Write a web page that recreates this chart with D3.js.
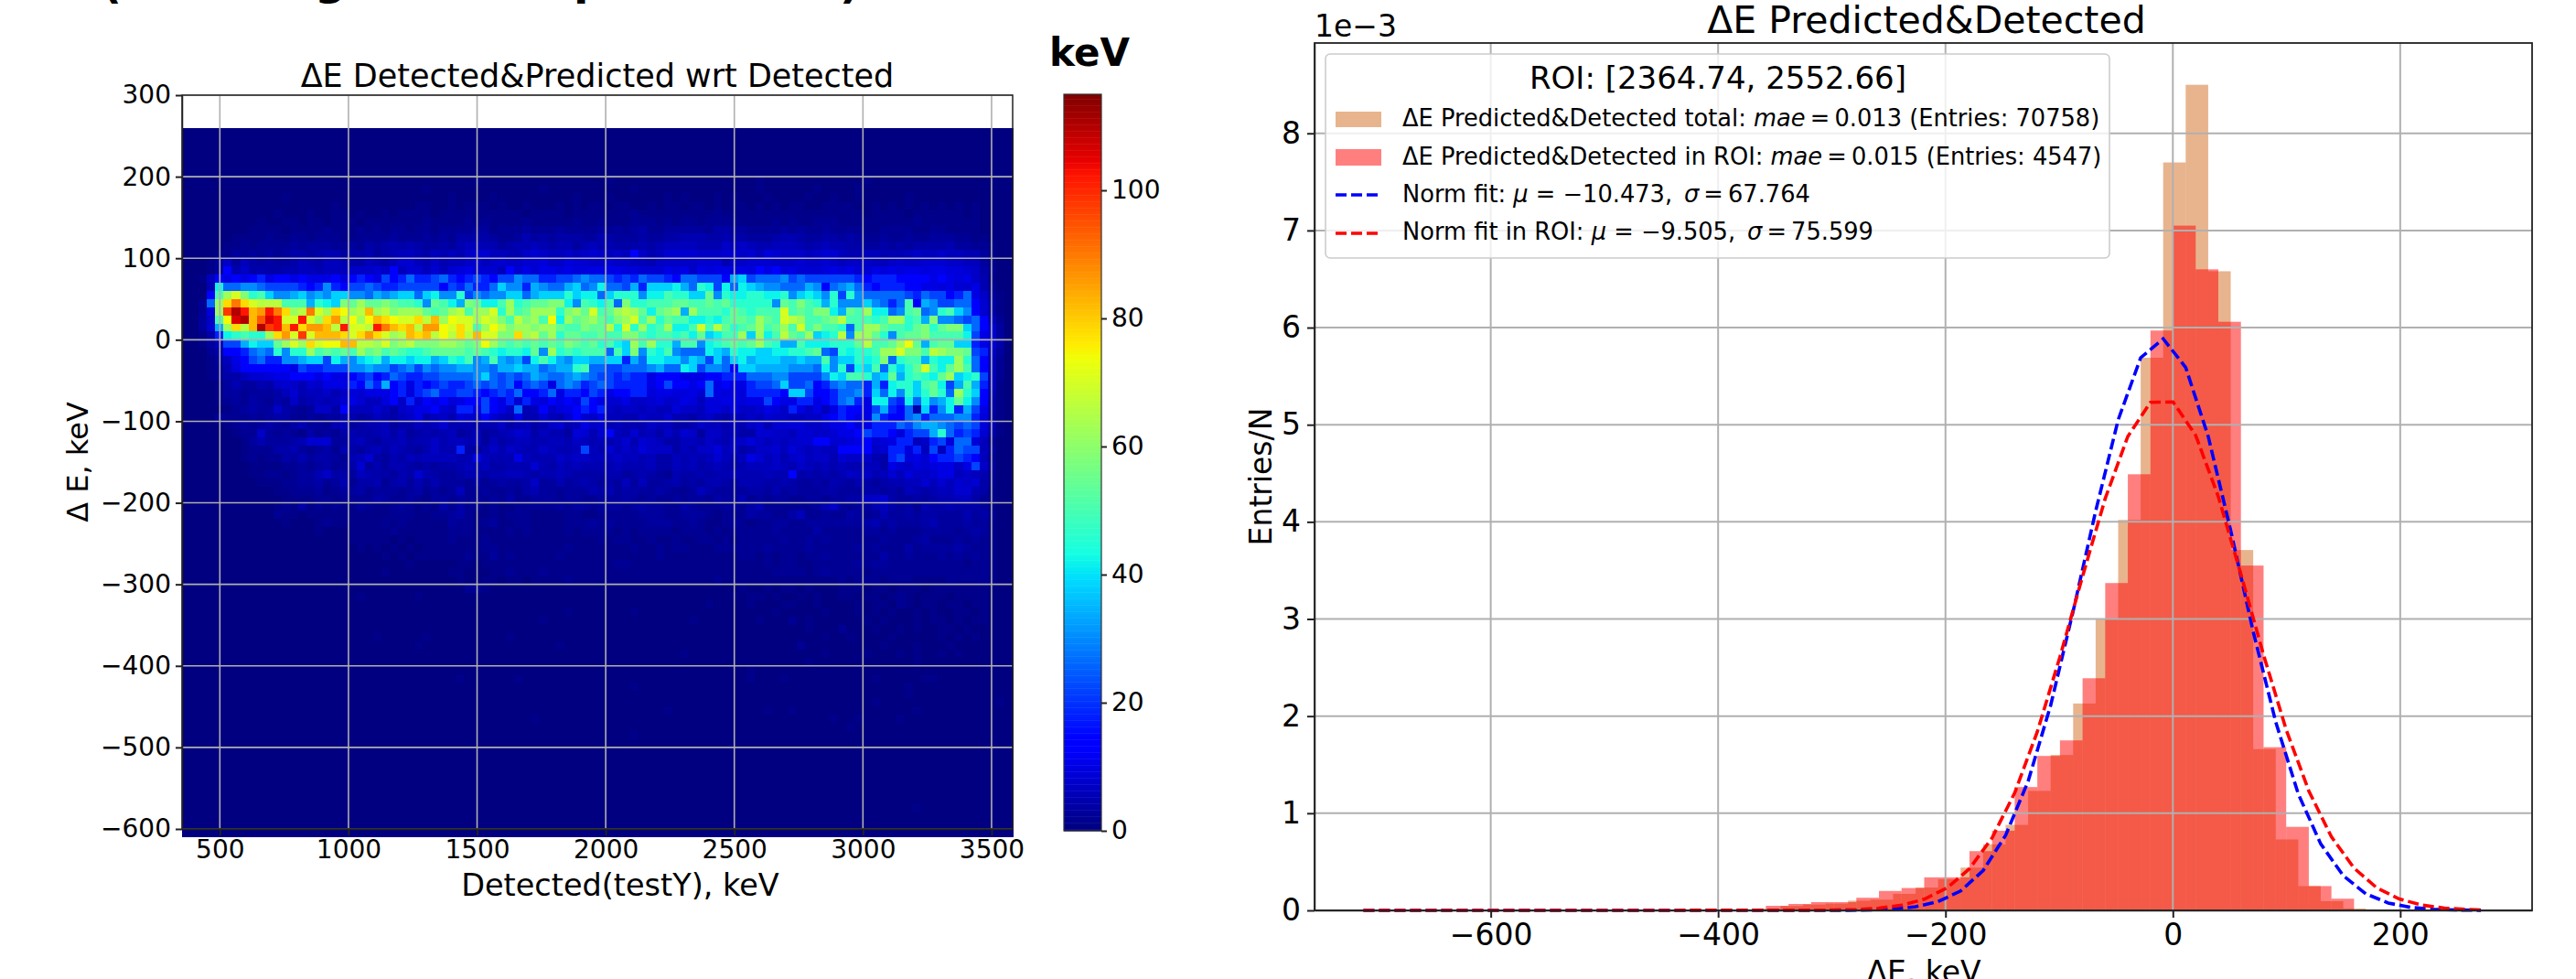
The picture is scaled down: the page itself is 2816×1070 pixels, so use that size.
<!DOCTYPE html>
<html>
<head>
<meta charset="utf-8">
<script src="https://cdn.jsdelivr.net/npm/d3@7"></script>
<style>
  html, body { margin: 0; padding: 0; background: #fff; overflow: hidden; }
  text { font-family: "DejaVu Sans"; fill: #000; }
</style>
</head>
<body>
<div id="chart"></div>
<script>
// ---- values ----

// heat map cells: one string per 10 keV row (top row first), one char per column
const heatCodes = "0123456789abcdefghijklmnopqrstuvwxyzZ".split("");
const heatCounts = [0,1,2,3,4,5,6,7,8,9,10,14,18,22,26,30,34,38,42,46,50,54,58,62,66,70,74,78,82,86,90,94,98,102,106,110,114];
const heatTop = 260;
const heatRowStep = 10;
const heatLeft = 353;
const heatColStep = 32.29;
const heatRows = [
  "", "", "", "", "", "",
  "0000000000 0000000000 0000000000 0000010000 0000000000 0100000000 0000000001 0000000000 0010000000 0000000000",
  "0000000000 0000000000 0000000001 0000000000 0001000000 0000100000 0000000001 0000001000 0100000000 0000000000",
  "0000000000 0010000000 0000000000 0010000100 0000000100 0100000010 1000101000 1000010010 0100000100 0000000000",
  "0000000000 0000000010 0000000011 0010111010 0100010101 1011001011 0110101101 0101100111 1001010101 0101010000",
  "0000000000 0100010011 0100101111 0111111111 1011110111 1111211111 1111211111 1111111111 1101111011 1111010000",
  "0000000001 0011011011 1011111112 1111212111 1211111211 2111222121 2212222111 1212112221 1111111121 1111110000",
  "0000000011 1101111211 1212122122 1222233122 2322232222 3232342233 3332443322 2232322322 2211222211 2211110000",
  "0000001111 2112212221 1222232223 2324444322 3534344433 5433343344 5554454433 3455433443 4322322322 3332211000",
  "0000011212 2223233322 3243454543 3435665534 5565455356 5544454566 6655576765 5666545655 4433434344 4453322100",
  "0000113232 3234434553 4453456654 6565788665 5787667678 7676b75688 8877788786 9877767886 5566555676 6766553100",
  "0001373643 4334654665 4465468865 7566786787 7889779887 7877665777 7788857788 8777877876 7776678778 8877663100",
  "00013b5745 4455665666 77787b6886 8689a8886b 8a8aa9a99a aaa99888a9 a7a9aa9a9b ab9a8889a9 a88a9a9aa9 aa99874200",
  "0016bababc abbabaaab9 bcbadbcecc decbcdcbdd feeccddefe edcdceddcb eedddbghde eefdeddddd dcbcccbbbb aba9a75100",
  "0005ieeffe ddddcbcfcb ddedccdddd dbdceccehf fcgfeeghef ieedgchhhi gejidieihg ffeeegfbef gecbcccbba a9a88a5200",
  "000bknpmjk hffghfgfhh ffegfghheh iffjdfeffh heghhhjhii ehjjjfiikj jhhlfjiijj iijfhihfjd jfeeeeedce ddbcea7310",
  "002enrurpo ookkkgjihm lnllmlkkjf lkigmliikn jkllmmifkj ikemjjkkkl lkklkljjjj jflkmkjgjf ffhfecekbg fddeeb8410",
  "0029nwzxst xurnoupnrq nosnomnnnl klnoknnpjn klnnnjmnlp klnonlilmn gnkkkjlkjk kkpklkmmig lkniiefkle fjkhfb8410",
  "0037kqyzsv yxppxpnrto qnqsrqppro snqppnpomk omnkqinlmn lkmnpknjlk kiijikllkn lkponkklmo kkkjknnjkg mffedeb620",
  "0038gnrosz wxsxrttsox ppoxusrsot tqprpknqom nnmnnlkkml lojpjnjkni ikpkoljkln klnkpkmkkj eknnlkkjlm jlmmheb830",
  "0014cijkjj nrtpwpsssr prtrpnosrs oqorosppmm rnolnjllkk lkkmmkjkkj kilhikknhn ikolknhijo fnnljfkllm kkkkida830",
  "00136ddgih hlnpnrpqqs soonpmnomm mnnmlmqnlk lklklkmlkl jkihnknjjg kkfijklkln kjggkiiijj jlokklnqlg kllhhca840",
  "00024bbcef ejfjjnklkl knlmklkjjk llllklkjij jilfnjkjkk kekhmfjikf eeeihgjiih hiijjkledj ijjknnpmmk onmmldc730",
  "000136abde ccffghhdig fhijgiihii ghjikfgkgf gdikigfhhg ghhcgeiihh fhgdhehigh hhgghggkfh hjijmejkkg jiinjeb620",
  "0001259bbb bbbadccddd ffgffdefdf effggffegg hggefggjke eddeeefgee ihdffebhhg gggfffeifj dihkejhjlp kilnkeb620",
  "0001244688 9aabbbabaa bcdbcedccd deeeefhede degfeefgfe ddcdccabbb aaabbcccee effddddfih kkjghlgjkj ilnhijd620",
  "0000135335 4787587aaa cbecgbcacb cdccdedede bdedaefecd edccccabdb babeabaacd dehddebcef eecgcijjhk lidgkgc610",
  "0000133233 3468566757 98aaabc9cd eccddcbcdc ebbceaccbd cabbcc9aa9 9a8ea9a9cc ccbhhdbbce efcheifjhj ljenjhb510",
  "0000123243 2437456568 a8669b7c8b ab9abbdbac 8ca9babadb a88a778978 a9699aa9aa dbaaccabce fcaiidciei fgilifb410",
  "0000012343 374323774b 66686478aa b87ccadba7 e56b79abcb c767767669 776997a778 a97ca7a6ac bbadgcbe4h cficgda410",
  "0000322232 3442232335 53465467a5 675987b865 a558658b87 a665576685 5467546676 8776677abc baafcbbefc eeeffc9310",
  "0000012323 4324533256 3455634465 6855545574 56457856a7 8565557664 4576656578 58899778aa b9acccedfg gfeded9510",
  "0000001227 3232142324 5445646345 4563463456 8746553985 8b65856475 8737756448 877688778a abdccb9cdd gjecdc8410",
  "0000000135 3334588833 5643556455 7566563645 6655665765 6568587644 6657657797 676788bb88 9ab89acc67 cd9ee96200",
  "0000000122 2445323425 4356465435 755c435757 65576556d6 5867697774 6577967457 786976766b bbb78cc9c6 d6cedd6300",
  "0000000121 2243534432 5684354656 66655a6555 a655576776 6676656446 56568656a8 6757867758 77754cd9a8 bccdcb6200",
  "0000000011 1122323423 4835355434 3445656445 5585465655 5565556446 5645654566 6765765656 55664a8798 9aa7ad7300",
  "0000000011 2212335744 3654435485 4334554556 6545565444 4553454325 4454556555 655b454545 7675686977 8aa6765200",
  "0000000001 1122334235 2445245353 5333242343 3473353454 3436363345 3435543555 4454334354 3543455668 6868784200",
  "0000000000 0112223123 3423332342 3236223223 2453323335 4534433432 2364333344 3534333443 3344343654 5668854100",
  "0000000000 0011112212 2224322321 3323222324 2233323322 3334323223 2332433523 2332233233 4477843343 4556642100",
  "0000000000 0121412121 1321123212 1424221211 2222232332 3332343322 4322233245 2222223573 2335643425 4454443100",
  "0000000000 0211011111 1111122211 2234211212 2211112211 2222233322 3332122243 3224622322 4323533434 4333534200",
  "0000000000 0010001211 1111212111 1132212311 2211112223 2322223332 2321123212 2332233333 3345343334 5333433100",
  "0000000000 0000001000 1111121111 1122211112 1211112122 2212122221 2221212222 2322224222 2233232223 3332343100",
  "0000000000 0000000000 1111101011 1121112111 1111111111 2122112112 1122121222 2232232322 2222322234 2223232100",
  "0000000000 0000000000 0101010101 1111112211 1111112111 1111211212 2111222222 3222232222 2323222423 3334322100",
  "0000000000 0000000000 0000101011 1111211312 1111121111 1111111211 1111111221 2122122322 2222422322 2323232100",
  "0000000000 0000000000 0000000100 0001101111 1111111111 1122111111 1111111111 2122112222 2323322222 2222122100",
  "0000000000 0000000000 0000100000 0011000112 1112111111 1111111111 1111111111 1222212322 2212222222 2222222100",
  "0000000000 0000000000 0000000000 0001001101 1011112111 1111111111 1111211111 1111111112 1222122211 1122222100",
  "0000000000 0000000000 0000000000 0000221000 0000000000 0000000000 0000000100 1011010001 1101101110 1111111000",
  "0000000000 0000000000 0100000010 0000000000 0000000000 0000000000 0000001011 0100101001 1011012101 1101111000",
  "0000000000 0000000000 0000000000 0000000000 0000000000 0000000000 0001000010 0011001000 0101102101 1011011000",
  "0000000000 0000000000 0000000000 0000000000 0000001000 0000100000 0000000000 0100000100 0101010010 1001101000",
  "0000000000 0000000000 0000000000 0000000000 0001000000 0000000000 0100000001 0002010000 0010100010 1101011000",
  "0000000000 0000000000 0000000000 0000000000 0000000000 0000000000 0000000000 0000010002 0001001010 0110100000",
  "0000000000 0000000000 0001000001 0000000001 0000000000 0000000000 0000000000 0000000100 1000010000 0101010000",
  "0000000000 0000000000 0000000010 0000000000 0000010000 0000000000 0000000000 0000200000 0000100010 0010000000",
  "0000000000 0000000000 0000000000 0000000000 0000000000 0000000000 1000000000 0000000100 0010001010 0101000000",
  "0000000000 0000000000 0000000000 0000000000 0000000000 0000000000 0000000000 0000010000 0000000010 0000000000",
  "0000000000 0000000000 0000000000 0000000000 0000000000 0000000000 0000000010 0000000000 0000000000 0000000000",
  "0000000000 0000000000 0000000000 0001000000 1000000000 0000000000 0000000010 0010000000 0001000001 1000000000",
  "0000000000 0000000000 0000000000 0000000000 0000000000 0000100000 0000000000 0000000000 0000000100 0000000000",
  "0000000000 0000000000 0000000000 0000000000 0000000000 0000000000 0000000000 0000000000 0000000100 0000000000",
  "0000000000 0000000000 0000000000 0000000000 0000000000 0000000000 0000000000 0000000000 0001000000 0000000010",
  "0000000000 0000000000 0000000000 0000000000 0000000000 0000000010 0000000000 1001000000 0000000010 0000000000",
  "0000000000 0000000000 0000000000 0000000000 0010000000 0000000000 0000000000 0000000010 0100001000 0000000000",
  "0000000000 0000000000 0000000000 0000000000 0000000000 0000000000 0000000000 0000000000 1000000000 0000000000",
  "0000000000 0000000000 0000000000 0000000000 0000000000 0000100000 0000000000 0000000000 0000000000 0000000000",
  "", "", "", "", "", "", "", "", "0000000000 0000000000 0000000000 0000000000 0000000000 0000000000 0000000000 0000000000 0000000010 0000000000",
  "", "", ""
];
const heatMax = 115;

const leftXTicks = [500, 1000, 1500, 2000, 2500, 3000, 3500];
const leftYTicks = [300, 200, 100, 0, -100, -200, -300, -400, -500, -600];
const colorTicks = [0, 20, 40, 60, 80, 100];

// histograms, in units of 1e-3
const totalFirstEdge = -384.7;
const roiFirstEdge = -377.9;
const totalBinWidth = 19.8;
const roiBinWidth = 19.9;
const totalBins = [.008, .02, .045, .06, .07, .10, .11, .17, .235, .32, .44, .68, .88, 1.23, 1.60, 2.13, 3.0, 4.02, 5.69, 7.70, 8.50, 6.58, 3.71, 1.66, .73, .25, .095, .02, .005];
const roiBins = [.01, .047, .066, .085, .085, .13, .20, .23, .34, .34, .61, .82, 1.27, 1.59, 1.75, 2.39, 3.37, 4.49, 5.97, 7.05, 6.60, 6.06, 3.55, 1.68, .86, .25, .12, .01, .005];

// fitted curves, polyline vertices as they appear in the picture
const fitTotalX = [-712, -305.5, -285.7, -265.9, -246.1, -226.3, -206.5, -186.7, -166.9, -147.1, -127.3, -107.5, -87.7, -67.9, -48.1, -28.3, -8.5, 11.3, 31.1, 50.9, 70.7, 90.5, 110.3, 130.1, 149.9, 169.7, 189.5, 209.3, 229.1, 248.9, 271];
const fitTotalY = [0, .001, .0016, .005, .014, .037, .09, .20, .41, .773, 1.33, 2.11, 3.08, 4.11, 5.05, 5.69, 5.885, 5.59, 4.88, 3.91, 2.87, 1.94, 1.20, .684, .357, .171, .0757, .0305, .0114, .004, .001];
const fitRoiX = [-712, -318.2, -298.3, -278.4, -258.5, -238.6, -218.7, -198.8, -178.9, -159, -139.1, -119.2, -99.3, -79.4, -59.5, -39.6, -19.7, .2, 20.1, 40, 59.9, 79.8, 99.7, 119.6, 139.5, 159.4, 179.3, 199.2, 219.1, 239, 258.9, 271];
const fitRoiY = [0, .001, .0036, .0095, .0234, .0535, .115, .23, .429, .747, 1.21, 1.84, 2.61, 3.44, 4.24, 4.88, 5.23, 5.235, 4.89, 4.26, 3.46, 2.63, 1.86, 1.23, .757, .435, .233, .117, .0546, .0238, .0097, .005];

const rightXTicks = [-600, -400, -200, 0, 200];
const rightYTicks = [0, 1, 2, 3, 4, 5, 6, 7, 8];

const cutOffChars = ["(", "g", "p", ")"];
const cutOffX = [111, 344, 627, 918];
const cutOffY = [-2, -6, -6, -2];

// ---- page ----
const svg = d3.select("#chart").append("svg")
  .attr("width", 2816)
  .attr("height", 1070)
  .style("display", "block");

// matplotlib's jet, from its segment table
const jetR = d3.scaleLinear().domain([0, .35, .66, .89, 1]).range([0, 0, 1, 1, .5]);
const jetG = d3.scaleLinear().domain([0, .125, .375, .64, .91, 1]).range([0, 0, 1, 1, 0, 0]);
const jetB = d3.scaleLinear().domain([0, .11, .34, .65, 1]).range([.5, 1, 1, 0, 0]);
function jet(t) {
  return d3.rgb(jetR(t) * 255, jetG(t) * 255, jetB(t) * 255).formatRgb();
}

function styleAxis(g, fontSize) {
  g.selectAll("path").attr("stroke", "#222").attr("stroke-width", 1.5);
  g.selectAll("line").attr("stroke", "#222").attr("stroke-width", 2);
  g.selectAll("text").attr("font-size", fontSize).attr("font-family", "DejaVu Sans").attr("fill", "#000");
}

// ---- left panel: heat map ----
const leftBox = { left: 199, right: 1107, top: 104, bottom: 906 };
const xLeft = d3.scaleLinear().domain([353, 3582]).range([leftBox.left, leftBox.right]);
const yLeft = d3.scaleLinear().domain([-600, 300]).range([leftBox.bottom, leftBox.top]);
const colorScale = d3.scaleLinear().domain([0, heatMax]).range([0, 1]);
const codeToCount = new Map(heatCodes.map((c, i) => [c, heatCounts[i]]));

const cells = [];
heatRows.forEach((row, r) => {
  const chars = row.replace(/ /g, "").padEnd(100, "0");
  chars.split("").forEach((c, col) => {
    cells.push({
      x0: heatLeft + col * heatColStep,
      top: heatTop - r * heatRowStep,
      v: codeToCount.get(c)
    });
  });
});

svg.append("g").attr("shape-rendering", "crispEdges").selectAll("rect")
  .data(cells)
  .enter().append("rect")
  .attr("x", d => xLeft(d.x0))
  .attr("y", d => yLeft(d.top))
  .attr("width", d => xLeft(d.x0 + heatColStep) - xLeft(d.x0) + .5)
  .attr("height", d => yLeft(d.top - heatRowStep) - yLeft(d.top) + .5)
  .attr("fill", d => jet(colorScale(d.v)));

const leftGrid = svg.append("g").attr("stroke", "#b0b0b0").attr("stroke-width", 1.6);
leftGrid.selectAll(".gx").data(leftXTicks).enter().append("line")
  .attr("x1", d => xLeft(d)).attr("x2", d => xLeft(d))
  .attr("y1", leftBox.top).attr("y2", leftBox.bottom);
leftGrid.selectAll(".gy").data(leftYTicks).enter().append("line")
  .attr("y1", d => yLeft(d)).attr("y2", d => yLeft(d))
  .attr("x1", leftBox.left).attr("x2", leftBox.right);

svg.append("rect")
  .attr("x", leftBox.left).attr("y", leftBox.top)
  .attr("width", leftBox.right - leftBox.left).attr("height", leftBox.bottom - leftBox.top)
  .attr("fill", "none").attr("stroke", "#222").attr("stroke-width", 1.5);

svg.append("g")
  .attr("transform", "translate(0," + leftBox.bottom + ")")
  .call(d3.axisBottom(xLeft).tickValues(leftXTicks).tickFormat(d3.format("d")).tickSize(7).tickSizeOuter(0).tickPadding(5))
  .call(styleAxis, 28);
svg.append("g")
  .attr("transform", "translate(" + leftBox.left + ",0)")
  .call(d3.axisLeft(yLeft).tickValues(leftYTicks).tickFormat(d3.format("d")).tickSize(7).tickSizeOuter(0).tickPadding(5))
  .call(styleAxis, 28);

svg.append("text").attr("x", 653).attr("y", 95).attr("text-anchor", "middle").attr("font-size", 35)
  .text("ΔE Detected&Predicted wrt Detected");
svg.append("text").attr("x", 678).attr("y", 979).attr("text-anchor", "middle").attr("font-size", 33.5)
  .text("Detected(testY), keV");
svg.append("text").attr("transform", "translate(96,505) rotate(-90)").attr("text-anchor", "middle").attr("font-size", 32)
  .text("Δ E, keV");

// colour bar
const barBox = { left: 1163, right: 1204, top: 103, bottom: 908 };
const yBar = d3.scaleLinear().domain([0, heatMax]).range([barBox.bottom, barBox.top]);
svg.append("g").selectAll("rect")
  .data(d3.range(0, heatMax, .25))
  .enter().append("rect")
  .attr("x", barBox.left)
  .attr("width", barBox.right - barBox.left)
  .attr("y", d => yBar(d + .25))
  .attr("height", d => yBar(d) - yBar(d + .25) + .5)
  .attr("fill", d => jet(colorScale(d)));
svg.append("rect")
  .attr("x", barBox.left).attr("y", barBox.top)
  .attr("width", barBox.right - barBox.left).attr("height", barBox.bottom - barBox.top)
  .attr("fill", "none").attr("stroke", "#333").attr("stroke-width", 1.2);
svg.append("g")
  .attr("transform", "translate(" + barBox.right + ",0)")
  .call(d3.axisRight(yBar).tickValues(colorTicks).tickSize(6).tickSizeOuter(0).tickPadding(5))
  .call(styleAxis, 28)
  .select("path").remove();
svg.append("text").attr("x", 1191).attr("y", 72).attr("text-anchor", "middle")
  .attr("font-size", 42).attr("font-weight", "bold").text("keV");

// heading of the original figure, only its descenders are left on the page
svg.append("g").selectAll("text")
  .data(cutOffChars)
  .enter().append("text")
  .attr("x", (d, i) => cutOffX[i])
  .attr("y", (d, i) => cutOffY[i])
  .attr("font-size", 48).attr("font-weight", "bold")
  .text(d => d);

// ---- right panel: histograms ----
const rightBox = { left: 1437, right: 2768, top: 47, bottom: 995 };
const xRight = d3.scaleLinear().domain([-755, 316]).range([rightBox.left, rightBox.right]);
const yRight = d3.scaleLinear().domain([0, 8.93]).range([rightBox.bottom, rightBox.top]);

function drawBars(values, firstEdge, binWidth, fill) {
  svg.append("g").selectAll("rect")
    .data(values)
    .enter().append("rect")
    .attr("x", (d, i) => xRight(firstEdge + i * binWidth))
    .attr("width", (d, i) => xRight(firstEdge + (i + 1) * binWidth) - xRight(firstEdge + i * binWidth))
    .attr("y", d => yRight(d))
    .attr("height", d => yRight(0) - yRight(d))
    .attr("fill", fill)
    .attr("fill-opacity", .5);
}
drawBars(totalBins, totalFirstEdge, totalBinWidth, "#d2691e");
drawBars(roiBins, roiFirstEdge, roiBinWidth, "#ff0000");

const rightGrid = svg.append("g").attr("stroke", "#b0b0b0").attr("stroke-width", 2);
rightGrid.selectAll(".gx").data(rightXTicks).enter().append("line")
  .attr("x1", d => xRight(d)).attr("x2", d => xRight(d))
  .attr("y1", rightBox.top).attr("y2", rightBox.bottom);
rightGrid.selectAll(".gy").data(rightYTicks).enter().append("line")
  .attr("y1", d => yRight(d)).attr("y2", d => yRight(d))
  .attr("x1", rightBox.left).attr("x2", rightBox.right);

const fitLine = d3.line().x(d => xRight(d[0])).y(d => yRight(d[1]));
function drawFit(xs, ys, color) {
  svg.append("path")
    .attr("d", fitLine(xs.map((x, i) => [x, ys[i]])))
    .attr("fill", "none")
    .attr("stroke", color)
    .attr("stroke-width", 3.6)
    .attr("stroke-dasharray", "12,5");
}
drawFit(fitTotalX, fitTotalY, "#0000ff");
drawFit(fitRoiX, fitRoiY, "#ff0000");

svg.append("rect")
  .attr("x", rightBox.left).attr("y", rightBox.top)
  .attr("width", rightBox.right - rightBox.left).attr("height", rightBox.bottom - rightBox.top)
  .attr("fill", "none").attr("stroke", "#222").attr("stroke-width", 1.8);

svg.append("g")
  .attr("transform", "translate(0," + rightBox.bottom + ")")
  .call(d3.axisBottom(xRight).tickValues(rightXTicks).tickFormat(d3.format("d")).tickSize(8).tickSizeOuter(0).tickPadding(7))
  .call(styleAxis, 33);
svg.append("g")
  .attr("transform", "translate(" + rightBox.left + ",0)")
  .call(d3.axisLeft(yRight).tickValues(rightYTicks).tickSize(8).tickSizeOuter(0).tickPadding(7))
  .call(styleAxis, 33);

svg.append("text").attr("x", 2106).attr("y", 36).attr("text-anchor", "middle").attr("font-size", 41)
  .text("ΔE Predicted&Detected");
svg.append("text").attr("x", 1437).attr("y", 40).attr("font-size", 33).text("1e−3");
svg.append("text").attr("x", 2103).attr("y", 1074).attr("text-anchor", "middle").attr("font-size", 33).text("ΔE, keV");
svg.append("text").attr("transform", "translate(1390,521) rotate(-90)").attr("text-anchor", "middle").attr("font-size", 33)
  .text("Entries/N");

// legend
const legend = svg.append("g");
legend.append("rect")
  .attr("x", 1449).attr("y", 59).attr("width", 857).attr("height", 223).attr("rx", 5)
  .attr("fill", "#fff").attr("fill-opacity", .8)
  .attr("stroke", "#ccc").attr("stroke-width", 1.6);
legend.append("text").attr("x", 1878).attr("y", 97).attr("text-anchor", "middle").attr("font-size", 34)
  .text("ROI: [2364.74, 2552.66]");

function legendText(y, parts) {
  const t = legend.append("text").attr("x", 1533).attr("y", y).attr("font-size", 25.7);
  parts.forEach(p => {
    t.append("tspan").attr("font-style", p[1] ? "italic" : "normal").text(p[0]);
  });
}
legendText(138, [["ΔE Predicted&Detected total: "], ["mae", 1], ["\u2009=\u20090.013 (Entries: 70758)"]]);
legendText(180, [["ΔE Predicted&Detected in ROI: "], ["mae", 1], ["\u2009=\u20090.015 (Entries: 4547)"]]);
legendText(221, [["Norm fit: "], ["μ", 1], [" = −10.473,\u2002"], ["σ", 1], ["\u2009=\u200967.764"]]);
legendText(262, [["Norm fit in ROI: "], ["μ", 1], [" = −9.505,\u2002"], ["σ", 1], ["\u2009=\u200975.599"]]);

legend.append("rect").attr("x", 1460).attr("y", 122).attr("width", 50).attr("height", 17)
  .attr("fill", "#d2691e").attr("fill-opacity", .5);
legend.append("rect").attr("x", 1460).attr("y", 163).attr("width", 50).attr("height", 18)
  .attr("fill", "#ff0000").attr("fill-opacity", .5);
legend.append("line").attr("x1", 1460).attr("x2", 1510).attr("y1", 213).attr("y2", 213)
  .attr("stroke", "#0000ff").attr("stroke-width", 3.6).attr("stroke-dasharray", "12,5");
legend.append("line").attr("x1", 1460).attr("x2", 1510).attr("y1", 255).attr("y2", 255)
  .attr("stroke", "#ff0000").attr("stroke-width", 3.6).attr("stroke-dasharray", "12,5");
</script>
</body>
</html>
